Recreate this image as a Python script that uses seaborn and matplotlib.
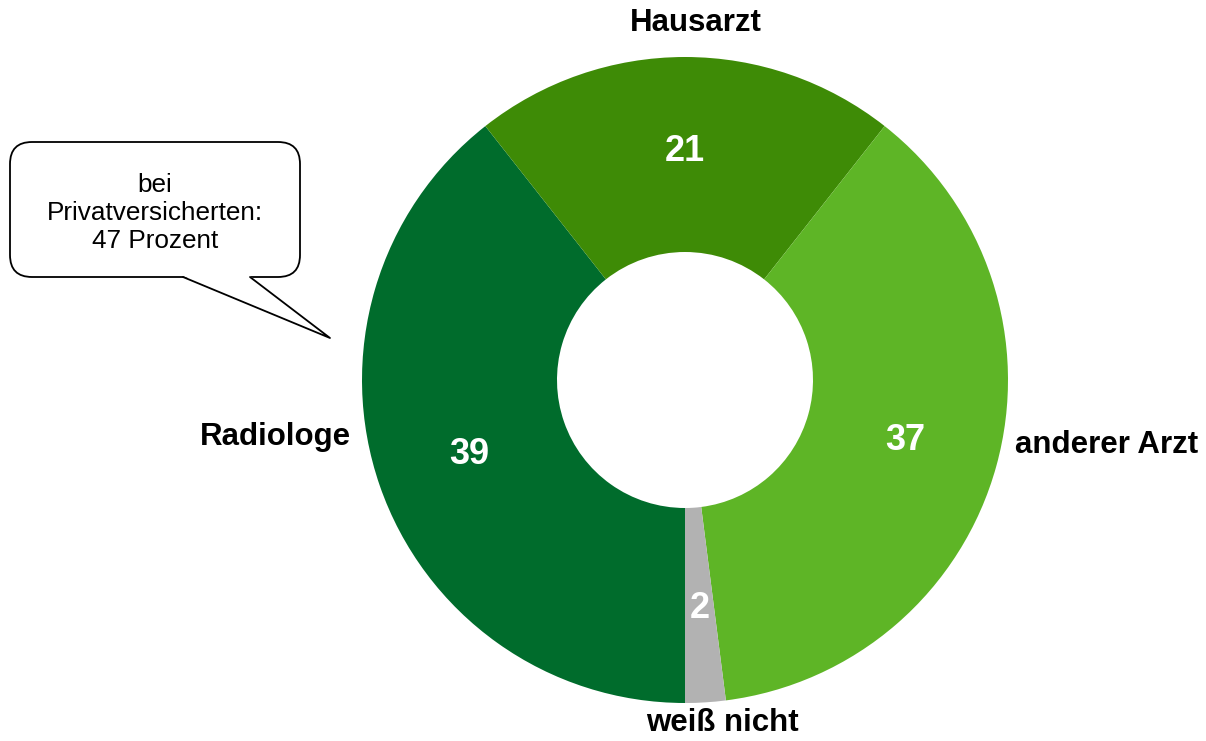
import numpy as np
import matplotlib.pyplot as plt
import seaborn as sns
from matplotlib.patches import FancyBboxPatch, Polygon

# Daten (Reihenfolge im Uhrzeigersinn ab 6 Uhr)
kategorien = ['Radiologe', 'Hausarzt', 'anderer Arzt', 'weiß nicht']
werte = [39, 21, 37, 2]
farben = ['#006C2C', '#3E8B06', '#5EB526', '#B2B2B2']
callout_text = 'bei\nPrivatversicherten:\n47 Prozent'

sns.set_theme(style='white')
plt.rcParams['font.family'] = ['Liberation Sans', 'DejaVu Sans']
plt.rcParams['text.color'] = 'black'

W, H = 1206, 741
fig = plt.figure(figsize=(W / 100, H / 100), dpi=100)
ax = fig.add_axes([0, 0, 1, 1])

cx, cy = 685, H - 380
r_aussen, r_innen = 323, 128

wedges, _ = ax.pie(werte, colors=farben, radius=r_aussen, center=(cx, cy),
                   startangle=-90, counterclock=False,
                   wedgeprops=dict(width=r_aussen - r_innen, linewidth=0))

# Zahlen in der Mitte des Rings
r_mitte = (r_aussen + r_innen) / 2 + 3
for w, v in zip(wedges, werte):
    ang = np.deg2rad((w.theta1 + w.theta2) / 2)
    ax.text(cx + r_mitte * np.cos(ang), cy + r_mitte * np.sin(ang), str(v),
            ha='center', va='center', color='white', fontsize=26, fontweight='bold')

# Kategorie-Beschriftungen (Pixelposition im Bild)
label_pos = {'Radiologe': (275, 437), 'Hausarzt': (696, 23),
             'anderer Arzt': (1107, 445), 'weiß nicht': (722, 723)}
for k in kategorien:
    x, y = label_pos[k]
    ax.text(x, H - y, k, ha='center', va='center', fontsize=22.5,
            fontweight='bold', color='black')

# Sprechblase
box = FancyBboxPatch((10, H - 277), 290, 135,
                     boxstyle='round,pad=0,rounding_size=22',
                     facecolor='white', edgecolor='black', linewidth=1.3, zorder=3)
ax.add_patch(box)
tail = [(183, H - 276), (250, H - 276), (330, H - 338)]
ax.add_patch(Polygon(tail, closed=True, facecolor='white', edgecolor='none', zorder=4))
ax.plot([183, 330, 250], [H - 277, H - 338, H - 277], color='black', lw=1.3, zorder=5)
ax.text(155, H - 213, callout_text, ha='center', va='center', fontsize=18.8,
        linespacing=1.2, color='black', zorder=6)

ax.set_xlim(0, W)
ax.set_ylim(0, H)
ax.set_aspect('equal')
ax.axis('off')

fig.savefig('out.png', dpi=100)
